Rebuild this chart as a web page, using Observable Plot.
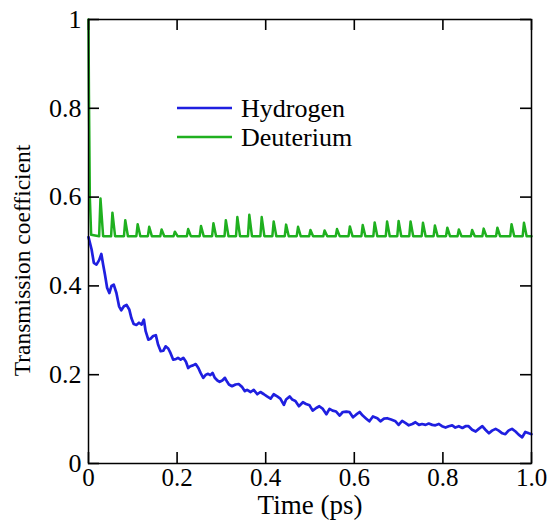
<!DOCTYPE html>
<html><head><meta charset="utf-8">
<script src="https://cdn.jsdelivr.net/npm/d3@7"></script>
<script src="https://cdn.jsdelivr.net/npm/@observablehq/plot@0.6"></script>
<style>body{margin:0;background:#fff}#chart{width:549px;height:525px}#chart svg{font-family:"Liberation Serif","Times New Roman",serif;color:#000;background:#fff}</style>
</head><body><div id="chart"></div>
<script>
const seriesNames = ["Hydrogen", "Deuterium"];
const seriesColors = ["#1f1fe0", "#1fb01f"];

const hTime = [0,0.007,0.012,0.018,0.024,0.029,0.033,0.037,0.042,0.047,0.052,0.057,0.063,0.069,0.074,0.080,0.086,0.092,0.097,0.102,0.108,0.114,0.120,0.125,0.129,0.135,0.140,0.146,0.152,0.157,0.163,0.169,0.174,0.180,0.185,0.191,0.197,0.202,0.208,0.214,0.220,0.225,0.230,0.236,0.242,0.248,0.253,0.259,0.265,0.270,0.275,0.280,0.285,0.291,0.296,0.302,0.308,0.313,0.317,0.324,0.332,0.339,0.347,0.353,0.358,0.366,0.373,0.381,0.388,0.396,0.403,0.411,0.418,0.426,0.433,0.441,0.446,0.454,0.460,0.467,0.475,0.484,0.491,0.499,0.506,0.514,0.521,0.529,0.537,0.544,0.551,0.559,0.567,0.574,0.582,0.589,0.597,0.604,0.612,0.619,0.627,0.634,0.642,0.652,0.659,0.667,0.674,0.683,0.693,0.700,0.708,0.716,0.723,0.731,0.738,0.746,0.753,0.761,0.768,0.776,0.783,0.791,0.798,0.806,0.813,0.821,0.828,0.836,0.844,0.851,0.858,0.866,0.874,0.881,0.889,0.896,0.904,0.911,0.919,0.926,0.934,0.941,0.948,0.956,0.964,0.971,0.979,0.986,0.994,1.0];
const hValue = [0.51,0.482,0.452,0.448,0.458,0.472,0.448,0.426,0.396,0.384,0.400,0.403,0.384,0.354,0.345,0.354,0.357,0.347,0.327,0.314,0.312,0.317,0.313,0.324,0.298,0.279,0.281,0.287,0.289,0.268,0.253,0.254,0.264,0.259,0.249,0.234,0.235,0.238,0.234,0.238,0.229,0.215,0.219,0.221,0.224,0.215,0.204,0.193,0.200,0.202,0.199,0.204,0.193,0.187,0.184,0.187,0.193,0.184,0.178,0.174,0.178,0.179,0.172,0.163,0.166,0.161,0.166,0.156,0.161,0.156,0.151,0.146,0.156,0.151,0.146,0.132,0.144,0.151,0.144,0.141,0.129,0.138,0.134,0.131,0.119,0.125,0.129,0.123,0.111,0.123,0.119,0.117,0.108,0.116,0.117,0.116,0.104,0.110,0.116,0.108,0.101,0.095,0.106,0.102,0.095,0.101,0.102,0.099,0.095,0.087,0.096,0.091,0.086,0.089,0.093,0.087,0.089,0.087,0.090,0.087,0.086,0.089,0.084,0.081,0.084,0.086,0.081,0.084,0.080,0.084,0.084,0.076,0.072,0.078,0.084,0.076,0.068,0.074,0.078,0.074,0.068,0.066,0.074,0.078,0.072,0.065,0.059,0.071,0.068,0.066];

const dStartTime = [0, 0.001, 0.003, 0.006];
const dStartValue = [1.0, 0.83, 0.60, 0.515];
const dBase = 0.512;
const dPeakTime = [0.027,0.054,0.083,0.111,0.137,0.165,0.195,0.225,0.254,0.282,0.310,0.336,0.363,0.391,0.418,0.446,0.473,0.501,0.533,0.561,0.590,0.619,0.646,0.674,0.700,0.727,0.755,0.782,0.810,0.836,0.866,0.892,0.923,0.955,0.983];
const dPeakValue = [0.597,0.565,0.548,0.539,0.533,0.527,0.522,0.528,0.535,0.541,0.548,0.555,0.560,0.555,0.545,0.538,0.533,0.526,0.525,0.528,0.534,0.537,0.543,0.545,0.546,0.545,0.542,0.536,0.531,0.527,0.526,0.529,0.531,0.539,0.542];

const xTicks = [0, 0.2, 0.4, 0.6, 0.8, 1];
const xTickLabels = ["0", "0.2", "0.4", "0.6", "0.8", "1.0"];
const yTicks = [0, 0.2, 0.4, 0.6, 0.8, 1];
const yTickLabels = ["0", "0.2", "0.4", "0.6", "0.8", "1"];
const xLabel = "Time (ps)";
const yLabel = "Transmission coefficient";

const hRows = hTime.map((t, i) => ({t, v: hValue[i]}));
const dRows = dStartTime.map((t, i) => ({t, v: dStartValue[i]}));
dPeakTime.forEach((t, i) => {
  dRows.push({t: t - 0.003, v: dBase});
  dRows.push({t, v: dPeakValue[i]});
  dRows.push({t: t + 0.006, v: dBase});
});
dRows.push({t: 1, v: dBase});

const font = "Liberation Serif, Times New Roman, serif";
const W = 549, H = 525, ML = 88, MR = 18, MT = 19, MB = 62;
const frameW = W - ML - MR, frameH = H - MT - MB;
const TICK = 11;
const tickStyle = {stroke: "black", strokeWidth: 1.6};

function legend(index, scales, values, dims) {
  const g = d3.create("svg:g");
  seriesNames.forEach((name, i) => {
    const y = dims.marginTop + 89 + i * 29;
    const x0 = dims.marginLeft + 89;
    g.append("line").attr("x1", x0).attr("x2", x0 + 55).attr("y1", y).attr("y2", y)
      .attr("stroke", seriesColors[i]).attr("stroke-width", 2.5);
    g.append("text").attr("x", x0 + 64).attr("y", y).attr("dy", "0.35em")
      .attr("text-anchor", "start")
      .attr("font-size", 26).attr("fill", "black").attr("font-family", font).text(name);
  });
  return g.node();
}

const chart = Plot.plot({
  width: W, height: H,
  marginLeft: ML, marginRight: MR, marginTop: MT, marginBottom: MB,
  x: {domain: [0, 1]},
  y: {domain: [0, 1]},
  marks: [
    Plot.line(hRows, {x: "t", y: "v", stroke: seriesColors[0], strokeWidth: 2.7}),
    Plot.line(dRows, {x: "t", y: "v", stroke: seriesColors[1], strokeWidth: 2.5}),
    Plot.frame({stroke: "black", strokeWidth: 1.5}),
    Plot.tickX(xTicks, {x: d => d, insetTop: frameH - TICK, ...tickStyle}),
    Plot.tickX(xTicks, {x: d => d, insetBottom: frameH - TICK, ...tickStyle}),
    Plot.tickY(yTicks, {y: d => d, insetRight: frameW - TICK, ...tickStyle}),
    Plot.tickY(yTicks, {y: d => d, insetLeft: frameW - TICK, ...tickStyle}),
    Plot.axisX(xTicks, {anchor: "bottom", tickSize: 0, tickPadding: 5, tickFormat: d => xTickLabels[xTicks.indexOf(d)], label: null, fontSize: 25, fontFamily: font}),
    Plot.axisY(yTicks, {anchor: "left", tickSize: 0, tickPadding: 7, tickFormat: d => yTickLabels[yTicks.indexOf(d)], label: null, fontSize: 26, fontFamily: font}),
    Plot.text([xLabel], {text: d => d, frameAnchor: "bottom", textAnchor: "middle", lineAnchor: "top", dy: 31, fontSize: 27, fontFamily: font}),
    Plot.text([yLabel], {text: d => d, frameAnchor: "left", textAnchor: "middle", rotate: -90, dx: -66, dy: 19, fontSize: 23.5, fontFamily: font}),
    legend
  ]
});
document.getElementById("chart").appendChild(chart);
</script>
</body></html>
